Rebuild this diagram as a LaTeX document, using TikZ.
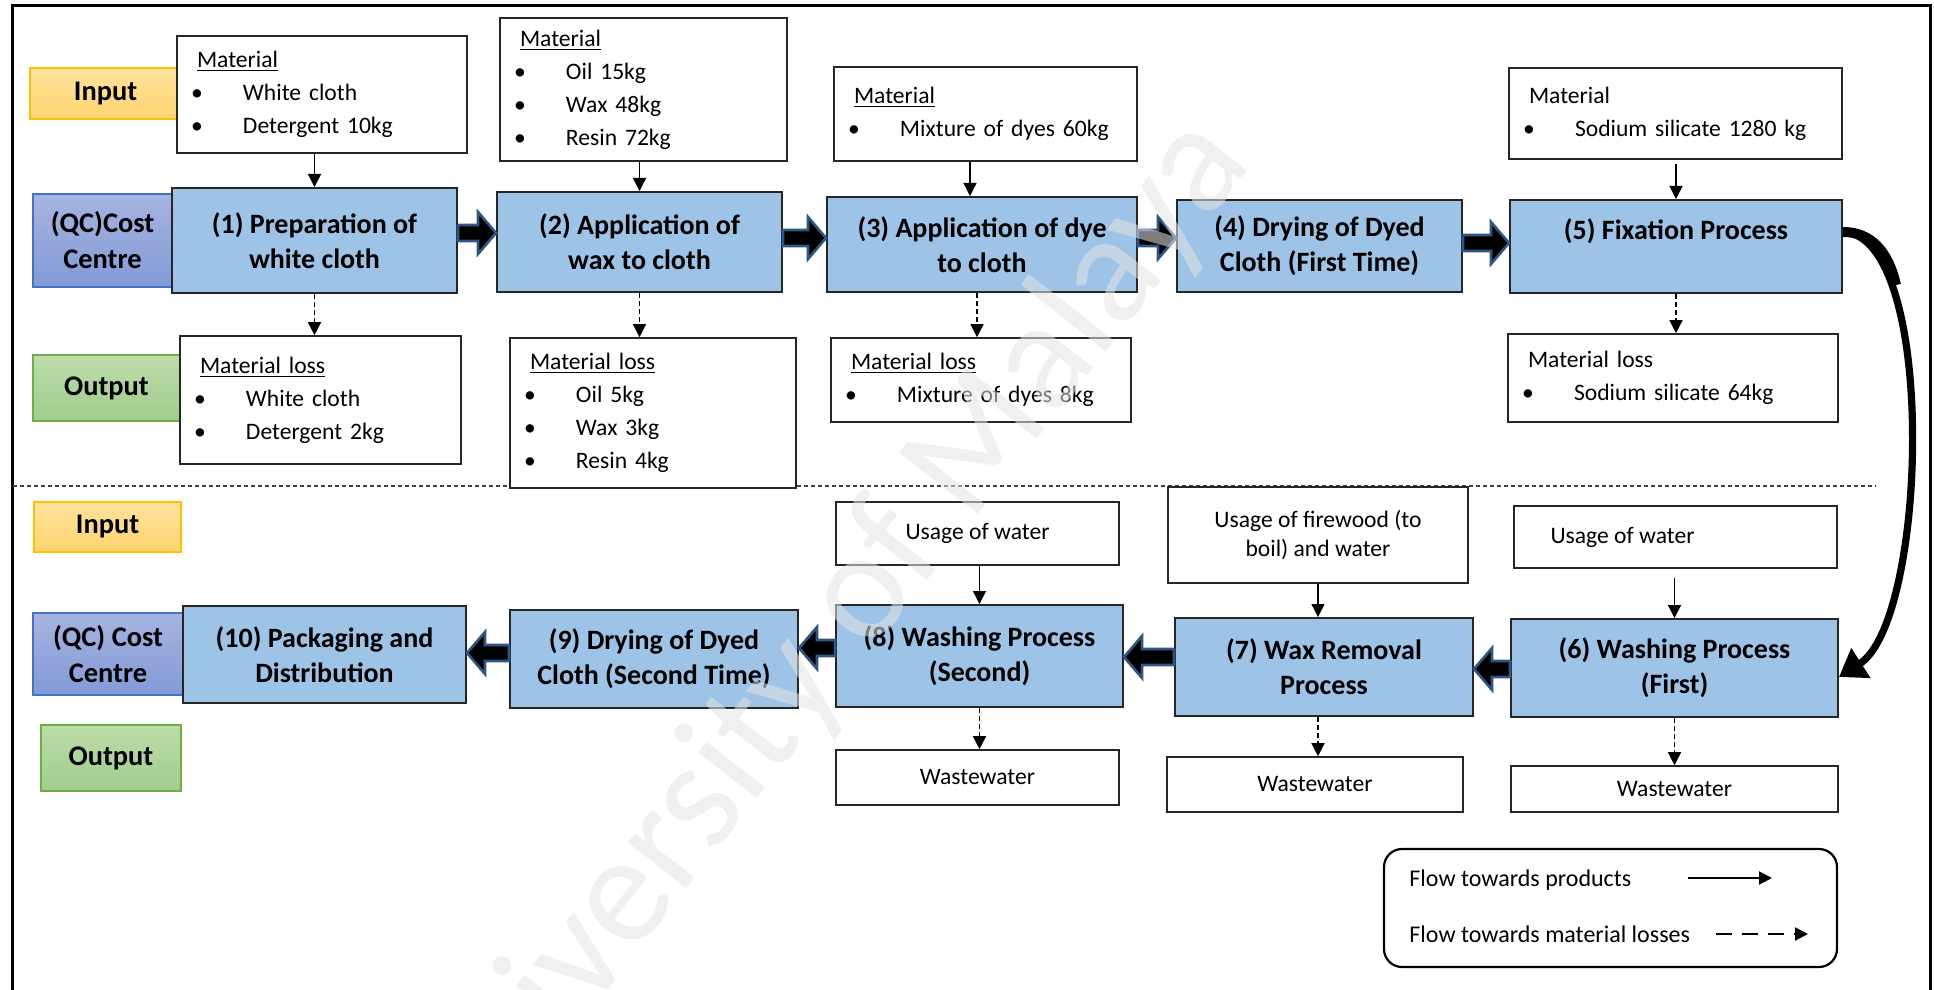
\documentclass[tikz,border=0pt]{standalone}
\usepackage{fontspec}
\setmainfont{Carlito}
\usetikzlibrary{arrows.meta,calc}
\definecolor{procblue}{RGB}{157,195,230}
\definecolor{inborder}{RGB}{255,192,0}
\definecolor{intop}{RGB}{255,226,156}
\definecolor{inbot}{RGB}{255,212,112}
\definecolor{outborder}{RGB}{112,173,71}
\definecolor{outtop}{RGB}{188,220,170}
\definecolor{outbot}{RGB}{160,205,140}
\definecolor{qcborder}{RGB}{68,114,196}
\definecolor{qctop}{RGB}{166,180,224}
\definecolor{qcbot}{RGB}{130,154,214}
\definecolor{arrowblue}{RGB}{47,85,130}
\definecolor{edge}{RGB}{38,38,38}
\definecolor{wmgray}{RGB}{228,228,228}
\newcommand\bul{\makebox[23pt][l]{\hspace{-3pt}\textbullet}}
\newcommand\placebox[7]{%
  \pgfmathsetmacro\bxcx{(#3+#5)/2}%
  \pgfmathsetmacro\bxcy{(#4+#6)/2}%
  \pgfmathsetlengthmacro\bxw{(#5-#3)*0.5pt}%
  \pgfmathsetlengthmacro\bxh{(#6-#4)*0.5pt}%
  \node[#2, minimum width=\bxw, minimum height=\bxh] (#1) at (\bxcx,\bxcy) {#7};}
\newcommand\placemat[7]{%
  \pgfmathsetmacro\bxcx{(#3+#5)/2}%
  \pgfmathsetmacro\bxcy{(#4+#6)/2}%
  \pgfmathsetlengthmacro\bxw{(#5-#3)*0.5pt}%
  \pgfmathsetlengthmacro\bxh{(#6-#4)*0.5pt}%
  \pgfmathsetlengthmacro\bxt{(#5-#3)*0.5pt-20pt}%
  \node[#2, text width=\bxt, minimum width=\bxw, minimum height=\bxh] (#1) at (\bxcx,\bxcy) {#7};}
\newcommand\blockarrow[2]{%
  \filldraw[barrow] let \p1=(#1), \p2=(#2), \n1={sign(\x2-\x1)} in
    (\x1,{\y1+4pt}) -- ({\x2-(\n1)*9pt},{\y1+4pt}) -- ({\x2-(\n1)*9pt},{\y1+10.5pt})
    -- (\x2,\y1) -- ({\x2-(\n1)*9pt},{\y1-10.5pt}) -- ({\x2-(\n1)*9pt},{\y1-4pt})
    -- (\x1,{\y1-4pt}) -- cycle;}
\tikzset{
  procbox/.style={draw=edge, line width=1pt, fill=procblue, align=center,
    font=\fontsize{14pt}{17.5pt}\selectfont\bfseries, inner sep=2pt},
  matbox/.style={draw=edge, line width=0.8pt, fill=white, align=left,
    font=\fontsize{11.8pt}{16.5pt}\selectfont, inner xsep=10pt, inner ysep=2pt},
  plainbox/.style={draw=edge, line width=0.8pt, fill=white, align=center,
    font=\fontsize{11.8pt}{14.5pt}\selectfont, inner sep=2pt},
  inlabel/.style={draw=inborder, line width=0.8pt, top color=intop, bottom color=inbot,
    font=\fontsize{14.2pt}{17.5pt}\selectfont\bfseries, align=center},
  outlabel/.style={draw=outborder, line width=0.8pt, top color=outtop, bottom color=outbot,
    font=\fontsize{14.2pt}{17.5pt}\selectfont\bfseries, align=center},
  qclabel/.style={draw=qcborder, line width=0.8pt, top color=qctop, bottom color=qcbot,
    font=\fontsize{14.2pt}{18pt}\selectfont\bfseries, align=center},
  flow/.style={line width=0.7pt, -{Triangle[length=6.5pt,width=6.5pt]}},
  lossflow/.style={flow, dash pattern=on 2.5pt off 1.5pt},
  barrow/.style={fill=black, draw=arrowblue, line width=1.3pt, line join=miter},
  sepline/.style={line width=0.6pt, draw=black!75, dash pattern=on 2pt off 1.5pt},
  legendbox/.style={draw=black, line width=1.1pt, rounded corners=9pt, fill=white},
  legtext/.style={font=\fontsize{12pt}{14pt}\selectfont, inner sep=0pt, anchor=west},
}
\begin{document}
\begin{tikzpicture}[x=0.5pt, y=-0.5pt]
\useasboundingbox (0,0) rectangle (1934,990);
\fill[white] (0,0) rectangle (1934,990);
% frame
\draw[line width=1.5pt] (12,990) -- (12,6) -- (1930,6) -- (1930,990);
% separator
\coordinate (sepL) at (13,486);
\coordinate (sepR) at (1876,486);
\draw[sepline] (sepL) -- (sepR);

% ---------- top row labels ----------
\placebox{inTop}{inlabel}{30}{68}{181}{119}{Input}
\placebox{qcTop}{qclabel}{33}{194}{172}{287}{(QC)Cost\\Centre}
\placebox{outTop}{outlabel}{33}{355}{180}{421}{Output}

% ---------- top row ----------
\placemat{m1}{matbox}{177}{36}{467}{153}{\underline{Material}\\\bul White cloth\\\bul Detergent 10kg}
\placebox{p1}{procbox}{172}{188}{457}{293}{(1) Preparation of\\white cloth}
\placemat{l1}{matbox}{180}{336}{461}{464}{\underline{Material loss}\\\bul White cloth\\\bul Detergent 2kg}

\placemat{m2}{matbox}{500}{18}{787}{161}{\underline{Material}\\\bul Oil 15kg\\\bul Wax 48kg\\\bul Resin 72kg}
\placebox{p2}{procbox}{497}{192}{782}{292}{(2) Application of\\wax to cloth}
\placemat{l2}{matbox}{510}{338}{796}{488}{\underline{Material loss}\\\bul Oil 5kg\\\bul Wax 3kg\\\bul Resin 4kg}

\placemat{m3}{matbox}{834}{67}{1137}{161}{\underline{Material}\\\bul Mixture of dyes 60kg}
\placebox{p3}{procbox}{827}{197}{1137}{292}{(3) Application of dye\\to cloth}
\placemat{l3}{matbox}{831}{338}{1131}{422}{\underline{Material loss}\\\bul Mixture of dyes 8kg}

\placebox{p4}{procbox}{1177}{200}{1462}{292}{(4) Drying of Dyed\\Cloth (First Time)}

\placemat{m5}{matbox}{1509}{68}{1842}{159}{Material\\\bul Sodium silicate 1280 kg}
\placebox{p5}{procbox}{1510}{200}{1842}{293}{(5) Fixation Process\\\mbox{}}
\placemat{l5}{matbox}{1508}{334}{1838}{422}{Material loss\\\bul Sodium silicate 64kg}

% ---------- bottom row labels ----------
\placebox{inBot}{inlabel}{34}{502}{181}{552}{Input}
\placebox{qcBot}{qclabel}{33}{613}{183}{695}{(QC) Cost\\Centre}
\placebox{outBot}{outlabel}{41}{725}{181}{791}{Output}

% ---------- bottom row ----------
\placebox{p10}{procbox}{183}{606}{466}{703}{(10) Packaging and\\Distribution}
\placebox{p9}{procbox}{510}{610}{798}{708}{(9) Drying of Dyed\\Cloth (Second Time)}
\placebox{u8}{plainbox}{836}{502}{1119}{565}{Usage of water}
\placebox{p8}{procbox}{836}{605}{1123}{707}{(8) Washing Process\\(Second)}
\placebox{w8}{plainbox}{836}{750}{1119}{805}{Wastewater}
\placebox{f7}{plainbox}{1168}{487}{1468}{583}{Usage of firewood (to\\boil) and water}
\placebox{p7}{procbox}{1175}{618}{1473}{716}{(7) Wax Removal\\Process}
\placebox{w7}{plainbox}{1167}{757}{1463}{812}{Wastewater}
\placebox{u6}{plainbox}{1514}{506}{1837}{568}{Usage of water\hspace*{53pt}}
\placebox{p6}{procbox}{1511}{619}{1838}{717}{(6) Washing Process\\(First)}
\placebox{w6}{plainbox}{1511}{766}{1838}{812}{Wastewater}

% ---------- input / loss connectors ----------
\draw[flow] (m1.south -| p1.north) -- (p1.north);
\draw[lossflow] (p1.south) -- (l1.north -| p1.south);
\draw[flow] (m2.south -| p2.north) -- (p2.north);
\draw[lossflow] (p2.south) -- (l2.north -| p2.south);
\draw[flow] ([xshift=-6pt]p3.north |- m3.south) -- ([xshift=-6pt]p3.north);
\draw[lossflow] ([xshift=-2.5pt]p3.south) -- ([xshift=-2.5pt]p3.south |- l3.north);
\draw[flow] ([yshift=-2pt]m5.south -| p5.north) -- (p5.north);
\draw[lossflow] (p5.south) -- (l5.north -| p5.south);
\draw[flow] (u8.south -| p8.north) -- (p8.north);
\draw[lossflow] (p8.south) -- (w8.north -| p8.south);
\draw[flow] (f7.south) -- (f7.south |- p7.north);
\draw[lossflow] (f7.south |- p7.south) -- (f7.south |- w7.north);
\draw[flow] ([yshift=-4.5pt]u6.south -| p6.north) -- (p6.north);
\draw[lossflow] (p6.south) -- (w6.north -| p6.south);

% ---------- block arrows ----------
\blockarrow{p1.east |- 0,233}{p2.west}
\blockarrow{p2.east |- 0,238}{p3.west}
\blockarrow{p3.east |- 0,238}{p4.west}
\blockarrow{p4.east |- 0,243}{p5.west}
\blockarrow{p6.west |- 0,669}{p7.east}
\blockarrow{p7.west |- 0,657}{p8.east}
\blockarrow{p8.west |- 0,648}{p9.east}
\blockarrow{p9.west |- 0,653}{p10.east}

% ---------- curved arrow 5 -> 6 ----------
\draw[line width=3.6pt, -{Triangle[length=13pt,width=17pt]}]
  (p5.east |- 0,232) .. controls (1938,235) and (1928,620) .. (p6.east |- 0,677);
\draw[line width=5pt, line cap=butt]
  (p5.east |- 0,232) .. controls (1870,232) and (1888,250) .. (1896,285);

% ---------- legend ----------
\placebox{legend}{legendbox}{1384}{849}{1837}{967}{}
\node[legtext] (lt1) at (1409,880) {Flow towards products};
\node[legtext] (lt2) at (1409,934) {Flow towards material losses};
\coordinate (ls1) at (1688,878);
\coordinate (le1) at (1772,878);
\coordinate (ls2) at (1716,934);
\coordinate (le2) at (1808,934);
\draw[line width=1pt, -{Triangle[length=6.5pt,width=6.5pt]}] (ls1) -- (le1);
\draw[line width=1pt, dash pattern=on 8pt off 5pt, -{Triangle[length=6.5pt,width=6.5pt]}] (ls2) -- (le2);

% ---------- watermark ----------
\node[rotate=52, font=\fontsize{78pt}{78pt}\selectfont, text=wmgray, text opacity=0.55] (wm) at (822,648) {University of Malaya};
\end{tikzpicture}
\end{document}
